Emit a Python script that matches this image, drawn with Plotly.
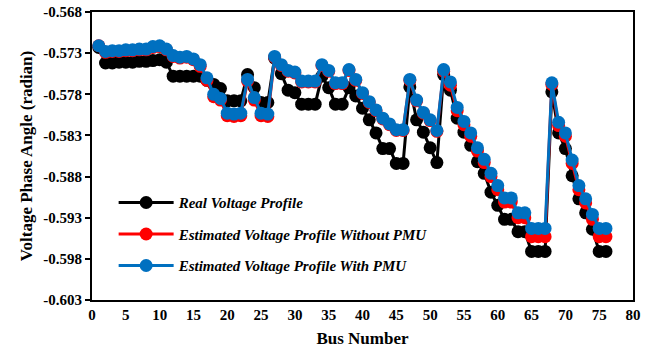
import plotly.graph_objects as go

bus = list(range(1, 77))

real = [-0.5723, -0.5742, -0.5742, -0.5741, -0.5741, -0.5741, -0.5740, -0.5740, -0.5739, -0.5738,
        -0.5741, -0.5758, -0.5758, -0.5758, -0.5758, -0.5758, -0.5763, -0.5768, -0.5773, -0.5788,
        -0.5788, -0.5788, -0.5756, -0.5772, -0.5790, -0.5790, -0.5736, -0.5755, -0.5775, -0.5778,
        -0.5792, -0.5792, -0.5792, -0.5758, -0.5772, -0.5792, -0.5792, -0.5772, -0.5782, -0.5797,
        -0.5811, -0.5827, -0.5846, -0.5846, -0.5864, -0.5864, -0.5771, -0.5811, -0.5826, -0.5845,
        -0.5863, -0.5756, -0.5775, -0.5809, -0.5826, -0.5842, -0.5862, -0.5876, -0.5899, -0.5915,
        -0.5932, -0.5932, -0.5947, -0.5947, -0.5971, -0.5971, -0.5971, -0.5777, -0.5827, -0.5846,
        -0.5879, -0.5907, -0.5924, -0.5944, -0.5971, -0.5971]

est_no_pmu = [-0.5721, -0.5729, -0.5728, -0.5728, -0.5727, -0.5727, -0.5726, -0.5726, -0.5723, -0.5722,
              -0.5726, -0.5734, -0.5736, -0.5735, -0.5738, -0.5746, -0.5763, -0.5783, -0.5787, -0.5806,
              -0.5807, -0.5806, -0.5764, -0.5787, -0.5806, -0.5807, -0.5735, -0.5745, -0.5752, -0.5754,
              -0.5765, -0.5765, -0.5765, -0.5745, -0.5752, -0.5767, -0.5767, -0.5751, -0.5763, -0.5779,
              -0.5790, -0.5800, -0.5810, -0.5817, -0.5824, -0.5824, -0.5763, -0.5788, -0.5803, -0.5812,
              -0.5825, -0.5752, -0.5769, -0.5800, -0.5817, -0.5831, -0.5849, -0.5863, -0.5880, -0.5896,
              -0.5911, -0.5911, -0.5930, -0.5930, -0.5953, -0.5953, -0.5953, -0.5768, -0.5818, -0.5831,
              -0.5864, -0.5896, -0.5912, -0.5932, -0.5953, -0.5953]

est_pmu = [-0.5721, -0.5728, -0.5727, -0.5727, -0.5726, -0.5726, -0.5725, -0.5725, -0.5722, -0.5721,
           -0.5725, -0.5733, -0.5735, -0.5734, -0.5737, -0.5744, -0.5760, -0.5780, -0.5785, -0.5803,
           -0.5804, -0.5803, -0.5762, -0.5784, -0.5803, -0.5804, -0.5734, -0.5744, -0.5751, -0.5753,
           -0.5764, -0.5764, -0.5764, -0.5744, -0.5751, -0.5766, -0.5766, -0.5750, -0.5762, -0.5778,
           -0.5789, -0.5799, -0.5809, -0.5816, -0.5823, -0.5823, -0.5762, -0.5787, -0.5802, -0.5811,
           -0.5824, -0.5750, -0.5765, -0.5796, -0.5813, -0.5827, -0.5845, -0.5859, -0.5876, -0.5891,
           -0.5906, -0.5906, -0.5924, -0.5924, -0.5943, -0.5943, -0.5943, -0.5766, -0.5814, -0.5827,
           -0.5860, -0.5891, -0.5907, -0.5926, -0.5943, -0.5943]

y_ticks = [-0.603, -0.598, -0.593, -0.588, -0.583, -0.578, -0.573, -0.568]
x_ticks = list(range(0, 81, 5))

series = [
    ("Real Voltage Profile", real, "#000000"),
    ("Estimated Voltage Profile Without PMU", est_no_pmu, "#FF0000"),
    ("Estimated Voltage Profile With PMU", est_pmu, "#0070C0"),
]

fig = go.Figure()
for i, (name, vals, col) in enumerate(series):
    fig.add_trace(go.Scatter(
        x=bus, y=vals, name=name, mode="lines+markers",
        line=dict(color=col, width=3),
        marker=dict(color=col, size=13),
        legendgroup=f"g{i}",
    ))

font_family = "Liberation Serif, Times New Roman, serif"

fig.update_layout(
    width=652, height=356,
    margin=dict(l=92, r=19, t=12, b=56, autoexpand=False),
    paper_bgcolor="white", plot_bgcolor="white",
    font=dict(family=font_family, color="black"),
    showlegend=True,
    legend=dict(
        x=0.04, y=0.395, xanchor="left", yanchor="top",
        bgcolor="rgba(0,0,0,0)",
        font=dict(family=font_family, size=15, color="black", style="italic", weight="bold"),
        itemwidth=55, tracegroupgap=9,
    ),
    xaxis=dict(
        range=[0, 80], tickvals=x_ticks, ticktext=[str(v) for v in x_ticks],
        showgrid=False, zeroline=False,
        showline=True, linecolor="black", linewidth=2, mirror=True,
        ticks="", ticklen=0,
        tickfont=dict(family=font_family, size=15, weight="bold"),
        title=dict(text="<b>Bus Number</b>", font=dict(family=font_family, size=17), standoff=10),
    ),
    yaxis=dict(
        range=[-0.603, -0.568], tickvals=y_ticks, ticktext=[f"{v:.3f}" for v in y_ticks],
        showgrid=False, zeroline=False,
        showline=True, linecolor="black", linewidth=2, mirror=True,
        ticks="outside", ticklen=5, tickwidth=1.5, tickcolor="black",
        tickfont=dict(family=font_family, size=15, weight="bold"),
        title=dict(text="<b>Voltage Phase Angle (radian)</b>", font=dict(family=font_family, size=17), standoff=6),
    ),
)

fig.write_html("out.html", config={"displayModeBar": False},
               post_script="document.body.style.margin='0';document.body.style.padding='0';")
